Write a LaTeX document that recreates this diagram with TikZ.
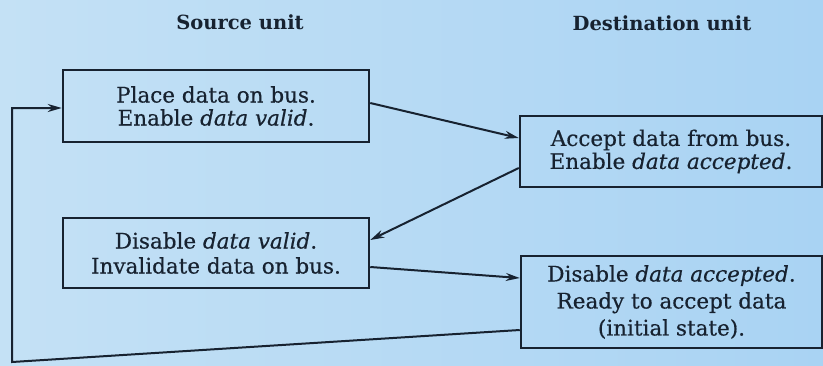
\documentclass[tikz,border=0pt]{standalone}
\usepackage{fontspec}
\setmainfont{DejaVu Serif}
\newfontfamily\boxfont[FakeBold=0.5]{DejaVu Serif}
\usetikzlibrary{arrows.meta}
\definecolor{bgleft}{HTML}{C4E1F5}
\definecolor{bgright}{HTML}{A9D3F3}
\definecolor{ink}{HTML}{172230}
\tikzset{
  box/.style={draw=ink, line width=2.5pt, rectangle, inner sep=0pt, align=center,
    text=ink, font=\boxfont\fontsize{21.5}{23}\selectfont},
  head/.style={text=ink, font=\fontsize{19.5}{22}\selectfont\bfseries},
  conn/.style={draw=ink, line width=2pt, -{Stealth[length=14pt,width=8pt]}},
}
\begin{document}
\begin{tikzpicture}[x=1pt,y=-1pt]
\shade[left color=bgleft, right color=bgright] (0,0) rectangle (823,365);
\useasboundingbox (0,0) rectangle (823,365);
\node[head] (src) at (240,22) {Source unit};
\node[head] (dst) at (662,23) {Destination unit};
\node[box, minimum width=306pt, minimum height=72pt] (b1) at (216,106)
  {Place data on bus.\\ Enable \textit{data valid}.};
\node[box, minimum width=302pt, minimum height=71pt] (b2) at (671,151.5)
  {Accept data from bus.\\ Enable \textit{data accepted}.};
\node[box, minimum width=306pt, minimum height=70pt, font=\boxfont\fontsize{21.5}{25}\selectfont] (b3) at (216,253)
  {Disable \textit{data valid}.\\ Invalidate data on bus.};
\node[box, minimum width=301pt, minimum height=92pt, font=\boxfont\fontsize{21.5}{27}\selectfont] (b4) at (671.5,302)
  {Disable \textit{data accepted}.\\ Ready to accept data\\ (initial state).};
\coordinate (lb) at (12,362);
\coordinate (lt) at (12,108);
\draw[conn] ([yshift=3pt]b1.east) -- ([yshift=13.5pt]b2.west);
\draw[conn] ([yshift=-16.5pt]b2.west) -- ([yshift=13pt]b3.east);
\draw[conn] ([yshift=-14pt]b3.east) -- ([yshift=24pt]b4.west);
\draw[conn] ([yshift=-28pt]b4.west) -- (lb) -- (lt) -- ([yshift=-2pt]b1.west);
\end{tikzpicture}
\end{document}
